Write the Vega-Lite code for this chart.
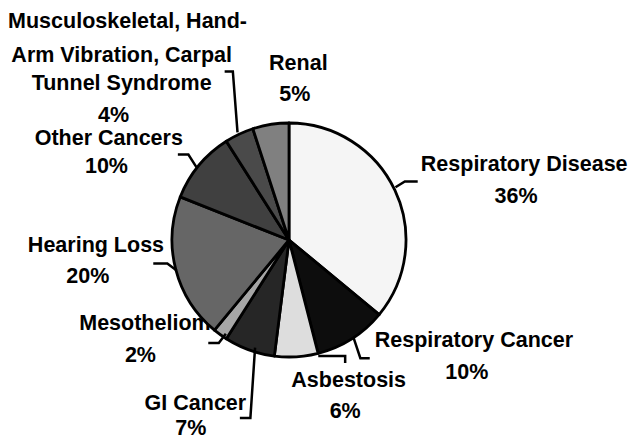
{
  "$schema": "https://vega.github.io/schema/vega-lite/v6.json",
  "width": 633,
  "height": 439,
  "autosize": {"type": "none"},
  "padding": 0,
  "background": "white",
  "config": {"view": {"stroke": null}},
  "datasets": {
    "slices": [
      {"cat": "Respiratory Disease", "value": 36, "k": 1},
      {"cat": "Respiratory Cancer", "value": 10, "k": 2},
      {"cat": "Asbestosis", "value": 6, "k": 3},
      {"cat": "GI Cancer", "value": 7, "k": 4},
      {"cat": "Mesothelioma", "value": 2, "k": 5},
      {"cat": "Hearing Loss", "value": 20, "k": 6},
      {"cat": "Other Cancers", "value": 10, "k": 7},
      {"cat": "Musculoskeletal", "value": 4, "k": 8},
      {"cat": "Renal", "value": 5, "k": 9}
    ],
    "labels": [
      {"t": "Musculoskeletal, Hand-", "x": -1.38, "y": 1.81},
      {"t": "Arm Vibration, Carpal", "x": -1.43, "y": 1.52},
      {"t": "Tunnel Syndrome", "x": -1.43, "y": 1.28},
      {"t": "4%", "x": -1.5, "y": 1.01},
      {"t": "Renal", "x": 0.08, "y": 1.45},
      {"t": "5%", "x": 0.05, "y": 1.19},
      {"t": "Other Cancers", "x": -1.54, "y": 0.81},
      {"t": "10%", "x": -1.56, "y": 0.57},
      {"t": "Respiratory  Disease", "x": 2.01, "y": 0.59},
      {"t": "36%", "x": 1.94, "y": 0.32},
      {"t": "Hearing Loss", "x": -1.65, "y": -0.1},
      {"t": "20%", "x": -1.72, "y": -0.37},
      {"t": "Mesothelioma", "x": -1.18, "y": -0.77},
      {"t": "2%", "x": -1.27, "y": -1.04},
      {"t": "Respiratory  Cancer", "x": 1.58, "y": -0.91},
      {"t": "10%", "x": 1.52, "y": -1.19},
      {"t": "Asbestosis", "x": 0.51, "y": -1.26},
      {"t": "6%", "x": 0.48, "y": -1.52},
      {"t": "GI Cancer", "x": -0.8, "y": -1.45},
      {"t": "7%", "x": -0.84, "y": -1.67}
    ],
    "leaders": [
      {"cat": "Respiratory Disease", "i": 1, "x": 0.91, "y": 0.45},
      {"cat": "Respiratory Disease", "i": 2, "x": 0.99, "y": 0.5},
      {"cat": "Respiratory Disease", "i": 3, "x": 1.1, "y": 0.5},
      {"cat": "Respiratory Cancer", "i": 1, "x": 0.55, "y": -0.83},
      {"cat": "Respiratory Cancer", "i": 2, "x": 0.61, "y": -1.01},
      {"cat": "Respiratory Cancer", "i": 3, "x": 0.69, "y": -1.01},
      {"cat": "Asbestosis", "i": 1, "x": 0.25, "y": -0.99},
      {"cat": "Asbestosis", "i": 2, "x": 0.48, "y": -0.99},
      {"cat": "Asbestosis", "i": 3, "x": 0.48, "y": -1.05},
      {"cat": "GI Cancer", "i": 1, "x": -0.29, "y": -0.92},
      {"cat": "GI Cancer", "i": 2, "x": -0.33, "y": -1.52},
      {"cat": "GI Cancer", "i": 3, "x": -0.42, "y": -1.52},
      {"cat": "Mesothelioma", "i": 1, "x": -0.54, "y": -0.8},
      {"cat": "Mesothelioma", "i": 2, "x": -0.6, "y": -0.88},
      {"cat": "Mesothelioma", "i": 3, "x": -0.69, "y": -0.88},
      {"cat": "Hearing Loss", "i": 1, "x": -0.96, "y": -0.26},
      {"cat": "Hearing Loss", "i": 2, "x": -1.04, "y": -0.2},
      {"cat": "Hearing Loss", "i": 3, "x": -1.16, "y": -0.2},
      {"cat": "Other Cancers", "i": 1, "x": -0.79, "y": 0.62},
      {"cat": "Other Cancers", "i": 2, "x": -0.86, "y": 0.73},
      {"cat": "Other Cancers", "i": 3, "x": -0.95, "y": 0.73},
      {"cat": "Musculoskeletal", "i": 1, "x": -0.44, "y": 0.92},
      {"cat": "Musculoskeletal", "i": 2, "x": -0.48, "y": 1.44},
      {"cat": "Musculoskeletal", "i": 3, "x": -0.55, "y": 1.44}
    ]
  },
  "layer": [
    {
      "data": {"name": "labels"},
      "mark": {"type": "text", "font": "Liberation Sans", "fontWeight": "bold", "fontSize": 21.5, "align": "center", "baseline": "alphabetic", "color": "black"},
      "encoding": {
        "x": {"field": "x", "type": "quantitative", "scale": {"domain": [-2.47, 2.94], "nice": false, "zero": false}, "axis": null},
        "y": {"field": "y", "type": "quantitative", "scale": {"domain": [-1.7, 2.05], "nice": false, "zero": false}, "axis": null},
        "text": {"field": "t"}
      }
    },
    {
      "data": {"name": "slices"},
      "mark": {"type": "arc", "outerRadius": 117, "stroke": "black", "strokeWidth": 2.8, "strokeJoin": "round"},
      "encoding": {
        "x": {"datum": 0, "type": "quantitative", "scale": {"domain": [-2.47, 2.94], "nice": false, "zero": false}, "axis": null},
        "y": {"datum": 0, "type": "quantitative", "scale": {"domain": [-1.7, 2.05], "nice": false, "zero": false}, "axis": null},
        "theta": {"field": "value", "type": "quantitative", "stack": true},
        "order": {"field": "k", "type": "quantitative"},
        "color": {
          "field": "cat", "type": "nominal", "legend": null,
          "scale": {
            "domain": ["Respiratory Disease", "Respiratory Cancer", "Asbestosis", "GI Cancer", "Mesothelioma", "Hearing Loss", "Other Cancers", "Musculoskeletal", "Renal"],
            "range": ["#f5f5f5", "#0d0d0d", "#dddddd", "#262626", "#a6a6a6", "#666666", "#404040", "#4a4a4a", "#808080"]
          }
        }
      }
    },
    {
      "data": {"name": "leaders"},
      "mark": {"type": "line", "color": "black", "strokeWidth": 2.5, "strokeJoin": "miter"},
      "encoding": {
        "x": {"field": "x", "type": "quantitative", "scale": {"domain": [-2.47, 2.94], "nice": false, "zero": false}, "axis": null},
        "y": {"field": "y", "type": "quantitative", "scale": {"domain": [-1.7, 2.05], "nice": false, "zero": false}, "axis": null},
        "detail": {"field": "cat"},
        "order": {"field": "i", "type": "quantitative"}
      }
    }
  ]
}
